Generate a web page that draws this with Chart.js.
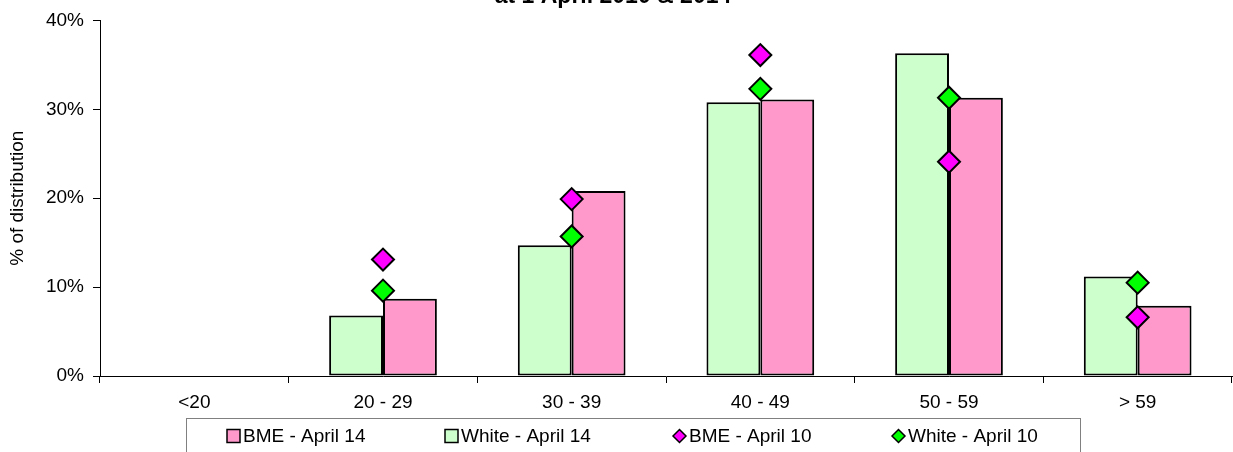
<!DOCTYPE html>
<html>
<head>
<meta charset="utf-8">
<script src="https://cdn.jsdelivr.net/npm/chart.js@4.4.1/dist/chart.umd.min.js"></script>
<style>
  html, body { margin: 0; padding: 0; background: #ffffff; }
  #wrap { width: 1233px; height: 452px; position: relative; }
</style>
</head>
<body>
<div id="wrap"><canvas id="c" width="1233" height="452"></canvas></div>
<script>
// Age bands and percentage distributions
const ageBands = ['<20', '20 - 29', '30 - 39', '40 - 49', '50 - 59', '> 59'];
const whiteApril14 = [null, 6.8, 14.7, 30.8, 36.3, 11.2];
const bmeApril14   = [null, 8.7, 20.8, 31.1, 31.3, 7.9];
const bmeApril10   = [null, 13.1, 19.9, 36.1, 24.1, 6.6];
const whiteApril10 = [null, 9.6, 15.7, 32.3, 31.3, 10.5];
const yTickValues  = [0, 10, 20, 30, 40];
const seriesNames  = ['White - April 14', 'BME - April 14', 'BME - April 10', 'White - April 10'];
const titleLine    = 'at 1 April 2010 & 2014';
const yAxisLabel   = '% of distribution';

const FONT = "'Liberation Sans', Arial, sans-serif";

// Title line and boxed legend drawn on the canvas
const decorations = {
  id: 'decorations',
  afterDraw(chart, args, opts) {
    const ctx = chart.ctx;
    ctx.save();
    // title
    ctx.fillStyle = '#000';
    ctx.font = 'bold 23px ' + FONT;
    ctx.textAlign = 'center';
    ctx.textBaseline = 'alphabetic';
    ctx.fillText(titleLine, opts.titleX, opts.titleY);

    // legend frame
    const L = opts.legend;
    ctx.strokeStyle = L.borderColor;
    ctx.lineWidth = 1;
    ctx.strokeRect(L.left + 0.5, L.top + 0.5, L.right - L.left, L.height);

    ctx.font = L.fontSize + 'px ' + FONT;
    ctx.textAlign = 'left';
    ctx.textBaseline = 'middle';
    L.order.forEach((dsIndex, i) => {
      const ds = chart.data.datasets[dsIndex];
      const x = L.itemX[i];
      const y = L.itemY;
      ctx.lineWidth = 1.5;
      ctx.strokeStyle = '#000';
      ctx.fillStyle = ds.type === 'line' ? ds.pointBackgroundColor : ds.backgroundColor;
      const s = L.marker;
      if (ds.type === 'line') {
        ctx.beginPath();
        ctx.moveTo(x, y);
        ctx.lineTo(x + s / 2, y - s / 2);
        ctx.lineTo(x + s, y);
        ctx.lineTo(x + s / 2, y + s / 2);
        ctx.closePath();
        ctx.fill();
        ctx.stroke();
      } else {
        ctx.fillRect(x, y - s / 2, s, s);
        ctx.strokeRect(x, y - s / 2, s, s);
      }
      ctx.fillStyle = '#000';
      ctx.fillText(ds.label, x + s + 3, y + 1);
    });
    ctx.restore();
  }
};

new Chart(document.getElementById('c'), {
  type: 'bar',
  data: {
    labels: ageBands,
    datasets: [
      {
        label: seriesNames[0], data: whiteApril14, order: 1,
        backgroundColor: '#CCFFCC', borderColor: '#000', borderWidth: 2, borderSkipped: false,
        categoryPercentage: 0.571, barPercentage: 1.0
      },
      {
        label: seriesNames[1], data: bmeApril14, order: 1,
        backgroundColor: '#FF99CC', borderColor: '#000', borderWidth: 2, borderSkipped: false,
        categoryPercentage: 0.571, barPercentage: 1.0
      },
      {
        type: 'line', label: seriesNames[2], data: bmeApril10, order: 0,
        showLine: false, pointStyle: 'rectRot', pointRadius: 11, pointHoverRadius: 11,
        pointBackgroundColor: '#FF00FF', pointBorderColor: '#000', pointBorderWidth: 2
      },
      {
        type: 'line', label: seriesNames[3], data: whiteApril10, order: 0,
        showLine: false, pointStyle: 'rectRot', pointRadius: 11, pointHoverRadius: 11,
        pointBackgroundColor: '#00FF00', pointBorderColor: '#000', pointBorderWidth: 2
      }
    ]
  },
  options: {
    responsive: false,
    animation: false,
    devicePixelRatio: 1,
    events: [],
    layout: { autoPadding: false, padding: { top: 19, right: 1, bottom: 36, left: 0 } },
    plugins: {
      legend: { display: false },
      tooltip: { enabled: false },
      title: { display: false },
      decorations: {
        titleX: 613, titleY: 3,
        legend: {
          left: 186, right: 1080, top: 418, height: 60,
          borderColor: '#808080', fontSize: 19, marker: 13, itemY: 436,
          order: [1, 0, 2, 3],
          itemX: [227, 445, 673, 892]
        }
      }
    },
    scales: {
      x: {
        offset: true,
        grid: { display: true, drawOnChartArea: false, drawTicks: true, tickLength: 7, color: '#000', offset: true },
        border: { display: true, color: '#000', width: 1 },
        ticks: { color: '#000', font: { family: FONT, size: 19 }, padding: 8, maxRotation: 0, autoSkip: false },
        afterFit(scale) { scale.height = 40; }
      },
      y: {
        min: 0, max: 40,
        afterBuildTicks(scale) { scale.ticks = yTickValues.map(v => ({ value: v })); },
        grid: { display: true, drawOnChartArea: false, drawTicks: true, tickLength: 7, color: '#000' },
        border: { display: true, color: '#000', width: 1 },
        ticks: { color: '#000', font: { family: FONT, size: 19 }, padding: 9, callback: v => v + '%' },
        title: { display: true, text: yAxisLabel, color: '#000', font: { family: FONT, size: 19 }, padding: { top: 6, bottom: 0 } },
        afterFit(scale) { scale.width = 100; }
      }
    }
  },
  plugins: [decorations]
});
</script>
</body>
</html>
